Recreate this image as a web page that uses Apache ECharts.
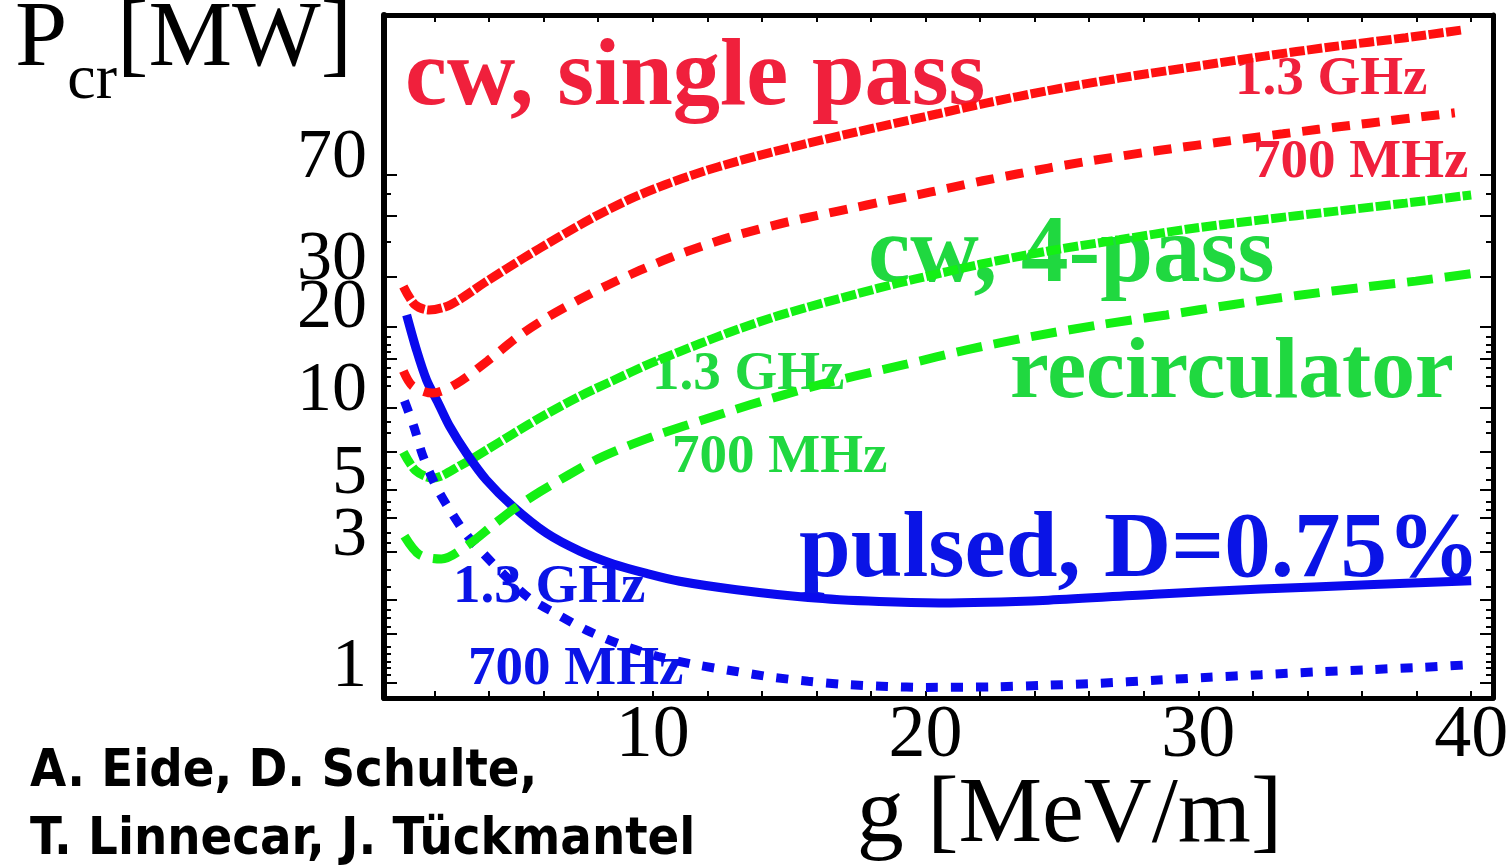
<!DOCTYPE html>
<html>
<head>
<meta charset="utf-8">
<title>Pcr vs g</title>
<style>
  html, body { margin: 0; padding: 0; background: #fff; }
  #main { width: 1509px; height: 865px; }
</style>
</head>
<body>
<div id="main"></div>
<script src="https://cdn.jsdelivr.net/npm/echarts@6/dist/echarts.min.js"></script>
<script>
  // g [MeV/m] , Pcr [MW]
  var cwSingle13 = [[0.86, 24.1], [1.28, 20.7], [1.8, 19.8], [2.59, 20.7], [3.9, 25.1], [5.21, 30.3], [6.52, 36.2],
    [7.83, 42.9], [9.14, 49.8], [10.45, 56.3], [11.76, 62.5], [13.07, 68.3], [14.39, 74.0], [15.7, 79.6], [17.0, 85.3],
    [18.3, 91.3], [19.6, 97.5], [20.5, 102], [22.26, 111.5], [24.5, 123.5], [27.1, 137], [29.7, 150], [32.3, 164],
    [34.9, 178], [37.6, 192], [39.7, 205]];
  var cwSingle700 = [[0.86, 11.9], [1.2, 10.5], [1.93, 9.9], [2.8, 10.7], [3.97, 13.0], [5.08, 15.9], [6.13, 18.6],
    [7.31, 21.6], [8.36, 24.4], [9.54, 27.6], [10.7, 30.8], [11.8, 33.7], [12.8, 36.3], [13.9, 38.9], [15.0, 41.4],
    [16.2, 43.9], [17.3, 46.3], [18.4, 48.8], [19.6, 51.5], [20.8, 54.6], [22.1, 58.2], [23.4, 61.7], [24.5, 64.7],
    [25.8, 68.1], [26.8, 70.6], [28.0, 73.6], [29.2, 76.5], [30.6, 79.9], [31.8, 82.9], [33.1, 86.1], [34.4, 89.4],
    [35.6, 92.4], [36.9, 95.8], [37.8, 98.2], [39.4, 102.6]];
  var cw4pass13 = [[0.86, 6.05], [1.3, 5.2], [1.93, 4.87], [3.0, 5.45], [3.9, 6.15], [4.88, 7.05], [6.0, 8.2],
    [7.33, 9.65], [8.55, 11.0], [9.77, 12.5], [10.99, 14.0], [11.76, 15.0], [13.07, 16.8], [14.39, 18.6], [15.7, 20.3],
    [17.0, 22.0], [18.3, 23.8], [19.6, 25.6], [22.0, 29.0], [24.5, 32.4], [27.1, 35.6], [29.7, 39.0], [32.3, 42.0],
    [34.9, 45.0], [37.6, 48.3], [40.0, 51.7]];
  var cw4pass700 = [[0.9, 3.0], [1.45, 2.57], [2.25, 2.48], [3.25, 2.8], [4.16, 3.3], [4.95, 3.79], [5.87, 4.35],
    [6.91, 5.0], [7.96, 5.7], [9.14, 6.4], [10.2, 7.0], [11.2, 7.55], [12.4, 8.25], [13.6, 9.0], [14.8, 9.75],
    [16.1, 10.6], [17.4, 11.4], [19.3, 12.6], [21.5, 14.2], [23.93, 15.9], [26.38, 17.5], [28.83, 19.0], [31.24, 20.7],
    [33.69, 22.4], [36.14, 24.0], [37.97, 25.2], [40.0, 26.8]];
  var pulsed13 = [[0.98, 19.0], [1.34, 14.2], [1.71, 11.05], [2.14, 9.1], [2.56, 7.49], [3.17, 6.0], [3.9, 4.8],
    [4.88, 3.84], [6.1, 3.08], [7.33, 2.65], [8.55, 2.38], [9.77, 2.2], [10.99, 2.06], [13.07, 1.92], [15.7, 1.80],
    [18.3, 1.74], [20.5, 1.72], [24.5, 1.76], [28.4, 1.85], [32.3, 1.93], [36.2, 2.0], [40.0, 2.07]];
  var pulsed700 = [[0.9, 9.28], [1.25, 7.46], [1.55, 5.96], [2.0, 4.67], [2.5, 3.82], [3.15, 3.06], [3.8, 2.59],
    [4.56, 2.17], [5.47, 1.79], [6.52, 1.56], [7.57, 1.37], [8.88, 1.21], [10.2, 1.10], [11.5, 1.03], [13.07, 0.97],
    [14.4, 0.925], [15.7, 0.895], [17.0, 0.872], [18.6, 0.857], [20.0, 0.85], [22.5, 0.854], [24.5, 0.866],
    [26.4, 0.88], [28.4, 0.902], [30.4, 0.925], [32.3, 0.945], [34.3, 0.967], [36.2, 0.985], [38.2, 1.005], [39.8, 1.025]];

  var xTicks = [2, 4, 6, 8, 10, 12, 14, 16, 18, 20, 22, 24, 26, 28, 30, 32, 34, 36, 38, 40];
  var xLabels = [10, 20, 30, 40];
  var yLabels = [1, 3, 5, 10, 20, 30, 70];
  var yMajorTicks = [0.882, 1.33, 1.76, 2.63, 3.5, 4.41, 6.06, 8.75, 13.2, 17.2, 26.1, 43.4, 61.1];
  var yMinorTicks = [0.943, 1.0, 1.05, 1.13, 1.19, 1.41, 1.52, 1.62, 1.97, 2.26, 2.84, 3.08, 3.74, 4.0, 4.8, 5.3,
    7.1, 7.79, 10.5, 11.3, 12.2, 14.0, 14.8, 15.8, 34.9, 52.2];

  var RED = '#ff1010', RED_T = '#f0203c';
  var GREEN = '#14f014', GREEN_T = '#20d840';
  var BLUE = '#0a0aee', BLUE_T = '#0a14e6';

  var myChart = echarts.init(document.getElementById('main'));

  function xAx(pos, showLabel) {
    return {
      type: 'value', position: pos, min: 0.15, max: 40.8,
      axisLine: { show: true, lineStyle: { color: '#000', width: 5 } },
      axisTick: { show: true, inside: true, length: 7, customValues: xTicks, lineStyle: { color: '#000', width: 2 } },
      axisLabel: {
        show: showLabel, customValues: xLabels, margin: 2, color: '#000',
        fontFamily: 'Liberation Serif', fontSize: 74, lineHeight: 74
      },
      splitLine: { show: false }
    };
  }

  function yAx(pos, ticks, len, showLine, showLabel) {
    return {
      type: 'log', position: pos, min: 0.778, max: 232,
      axisLine: { show: showLine, lineStyle: { color: '#000', width: pos === 'left' ? 6 : 5 } },
      axisTick: { show: true, inside: true, length: len, customValues: ticks, lineStyle: { color: '#000', width: 2 } },
      axisLabel: {
        show: showLabel, customValues: yLabels, margin: 17, color: '#000',
        fontFamily: 'Liberation Serif', fontSize: 70
      },
      splitLine: { show: false },
      minorTick: { show: false }
    };
  }

  var yMain = yAx('left', yMajorTicks, 13, true, true);
  yMain.name = '{p|P}{s|cr}{p|[MW]}';
  yMain.nameLocation = 'end';
  yMain.nameGap = 22;
  yMain.nameMoveOverlap = false;
  yMain.nameTextStyle = {
    align: 'right', verticalAlign: 'top', padding: [0, 32, 0, 0],
    rich: {
      p: { fontFamily: 'Liberation Serif', fontSize: 94, lineHeight: 94, verticalAlign: 'top', color: '#000' },
      // taller line box + bottom alignment drops the subscript below P's baseline
      s: { fontFamily: 'Liberation Serif', fontSize: 64, lineHeight: 120, verticalAlign: 'bottom', color: '#000' }
    }
  };

  var xMain = xAx('bottom', true);
  xMain.name = 'g [MeV/m]';
  xMain.nameLocation = 'middle';
  xMain.nameGap = 71;
  xMain.nameMoveOverlap = false;
  xMain.nameTextStyle = {
    fontFamily: 'Liberation Serif', fontSize: 94, lineHeight: 94, color: '#000',
    verticalAlign: 'top', padding: [0, 0, 0, 262]
  };

  function line(name, data, color, type, width) {
    return {
      name: name, type: 'line', data: data, xAxisIndex: 0, yAxisIndex: 0,
      showSymbol: false, symbol: 'none', smooth: 0.3, clip: true,
      lineStyle: { color: color, width: width, type: type, cap: 'butt' }
    };
  }

  // baseline sits about 0.272 * size below the middle anchor
  function label(text, x, baseline, size, color) {
    return {
      type: 'text', x: x, y: baseline - 0.272 * size,
      style: {
        text: text, fill: color, font: 'bold ' + size + 'px "Liberation Serif"',
        textAlign: 'left', textVerticalAlign: 'middle', verticalAlign: 'middle'
      }
    };
  }

  var option = {
    backgroundColor: '#fff',
    animation: false,
    grid: { left: 384, right: 16, top: 15, bottom: 167, containLabel: false, outerBoundsMode: 'none' },
    title: {
      text: 'A. Eide, D. Schulte,\nT. Linnecar, J. Tückmantel',
      left: 30, top: 738, padding: 0,
      textStyle: {
        fontFamily: "'Liberation Sans Narrow', 'DejaVu Sans Condensed', sans-serif",
        fontWeight: 'bold', fontSize: 52, lineHeight: 68, color: '#000'
      }
    },
    xAxis: [xMain, xAx('top', false)],
    yAxis: [yMain, yAx('right', yMajorTicks, 13, true, false),
      yAx('left', yMinorTicks, 7, false, false), yAx('right', yMinorTicks, 7, false, false)],
    graphic: [
      label('cw, single pass', 405, 105, 94.5, RED_T),
      label('1.3 GHz', 1235, 95, 55, RED_T),
      label('700 MHz', 1253, 178, 55, RED_T),
      label('cw, 4-pass', 868, 282, 95, GREEN_T),
      label('recirculator', 1010, 398, 87.5, GREEN_T),
      label('1.3 GHz', 652, 390, 55, GREEN_T),
      label('700 MHz', 672, 473, 55, GREEN_T),
      label('pulsed, D=0.75%', 799, 577, 93, BLUE_T),
      label('1.3 GHz', 453, 603, 55, BLUE_T),
      label('700 MHz', 468, 685, 55, BLUE_T)
    ],
    series: [
      line('cw 4-pass 1.3 GHz', cw4pass13, GREEN, [15, 2.5], 9),
      line('pulsed 700 MHz', pulsed700, BLUE, [12, 13], 9),
      line('pulsed 1.3 GHz', pulsed13, BLUE, 'solid', 9),
      line('cw 4-pass 700 MHz', cw4pass700, GREEN, [26, 12], 9),
      line('cw single 700 MHz', cwSingle700, RED, [18, 12], 9),
      line('cw single 1.3 GHz', cwSingle13, RED, [15, 2.5], 9)
    ]
  };

  myChart.setOption(option);
</script>
</body>
</html>
